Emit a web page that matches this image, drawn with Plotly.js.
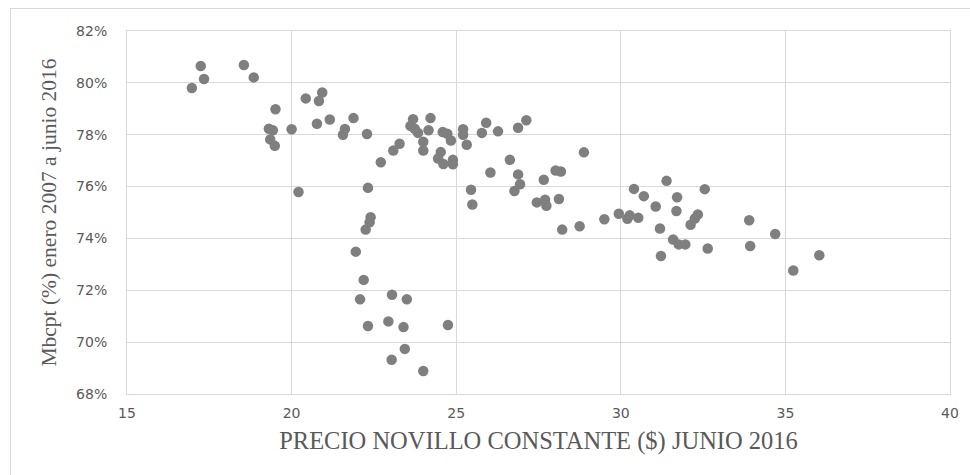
<!DOCTYPE html>
<html>
<head>
<meta charset="utf-8">
<script src="https://cdn.plot.ly/plotly-3.0.1.min.js"></script>
<style>
  html, body { margin: 0; padding: 0; background: #fff; }
  #wrap { position: relative; width: 970px; height: 475px; overflow: hidden; }
  #chart { position: absolute; left: 0; top: 0; width: 970px; height: 475px; }
  #frame { position: absolute; left: 10px; top: 8px; width: 980px; height: 490px; border: 1px solid #d9d9d9; pointer-events: none; }
</style>
</head>
<body>
<div id="wrap">
  <div id="chart"></div>
  <div id="frame"></div>
</div>
<script>
// Precio novillo constante ($, junio 2016)
const precio = [
  16.97, 17.24, 17.34, 18.55, 18.85, 19.51, 19.31, 19.43, 19.35, 19.49,
  20.00, 20.21, 20.43, 20.93, 20.83, 20.77, 21.16, 21.62, 21.56, 21.88,
  22.29, 22.71, 23.09, 23.28, 22.32, 22.40, 22.37, 22.25, 21.95, 22.19,
  22.08, 23.05, 23.50, 22.32, 22.94, 23.40, 24.75, 23.44, 23.04, 24.00,
  23.69, 23.61, 23.74, 23.84, 24.22, 24.16, 24.00, 24.00, 24.59, 24.73,
  24.84, 24.53, 24.45, 24.61, 24.90, 24.90, 25.21, 25.21, 25.32, 25.78,
  25.91, 26.04, 25.45, 25.49, 26.27, 26.88, 27.13, 28.88, 26.63, 26.88,
  26.94, 26.77, 27.66, 28.02, 28.18, 27.45, 27.70, 27.74, 28.12, 28.22,
  28.75, 29.50, 29.94, 30.27, 30.20, 30.53, 30.40, 30.70, 31.39, 31.06,
  31.71, 31.69, 32.55, 32.34, 32.25, 32.12, 31.19, 31.59, 31.76, 31.96,
  31.22, 32.64, 33.90, 33.93, 34.69, 35.24, 36.03
];
// Mbcpt (%) enero 2007 a junio 2016
const mbcpt = [
  79.80, 80.65, 80.15, 80.69, 80.21, 78.98, 78.23, 78.17, 77.82, 77.57,
  78.21, 75.79, 79.40, 79.63, 79.30, 78.42, 78.59, 78.22, 78.00, 78.64,
  78.03, 76.94, 77.39, 77.65, 75.95, 74.82, 74.62, 74.34, 73.49, 72.40,
  71.65, 71.83, 71.65, 70.62, 70.80, 70.58, 70.66, 69.74, 69.32, 68.89,
  78.60, 78.34, 78.23, 78.07, 78.64, 78.17, 77.73, 77.39, 78.10, 78.04,
  77.78, 77.33, 77.08, 76.87, 77.03, 76.86, 78.21, 78.00, 77.61, 78.07,
  78.46, 76.54, 75.88, 75.31, 78.13, 78.27, 78.56, 77.32, 77.03, 76.47,
  76.09, 75.83, 76.26, 76.62, 76.58, 75.39, 75.49, 75.26, 75.52, 74.34,
  74.47, 74.74, 74.95, 74.89, 74.76, 74.80, 75.91, 75.63, 76.22, 75.23,
  75.59, 75.06, 75.90, 74.92, 74.77, 74.53, 74.38, 73.96, 73.77, 73.77,
  73.32, 73.61, 74.70, 73.71, 74.17, 72.76, 73.35
];

const xTitle = "PRECIO NOVILLO CONSTANTE ($) JUNIO 2016";
const yTitle = "Mbcpt (%) enero 2007 a junio 2016";

const trace = {
  type: "scatter",
  mode: "markers",
  x: precio,
  y: mbcpt,
  marker: { color: "#7f7f7f", size: 10.5, line: { width: 0 } },
  hoverinfo: "x+y"
};

const grid = "#d9d9d9";
const tickFont = { family: "DejaVu Sans", size: 14, color: "#595959" };

const layout = {
  width: 970,
  height: 475,
  margin: { l: 127, r: 20, t: 31, b: 81 },
  paper_bgcolor: "rgba(0,0,0,0)",
  plot_bgcolor: "#ffffff",
  showlegend: false,
  xaxis: {
    range: [15, 40],
    dtick: 5,
    tick0: 15,
    showgrid: true,
    gridcolor: grid,
    gridwidth: 1,
    zeroline: false,
    showline: true,
    linecolor: grid,
    linewidth: 1,
    mirror: true,
    ticks: "",
    ticklabelstandoff: 6,
    tickfont: tickFont,
    title: { text: xTitle, font: { family: "Liberation Serif", size: 24.5, color: "#595959" }, standoff: 12 }
  },
  yaxis: {
    range: [68, 82],
    dtick: 2,
    tick0: 68,
    ticksuffix: "%",
    showgrid: true,
    gridcolor: grid,
    gridwidth: 1,
    zeroline: false,
    showline: true,
    linecolor: grid,
    linewidth: 1,
    mirror: true,
    ticks: "",
    ticklabelstandoff: 16,
    tickfont: tickFont,
    title: { text: yTitle, font: { family: "Liberation Serif", size: 21.5, color: "#595959" }, standoff: 13 }
  }
};

Plotly.newPlot("chart", [trace], layout, { displayModeBar: false, staticPlot: true });
</script>
</body>
</html>
